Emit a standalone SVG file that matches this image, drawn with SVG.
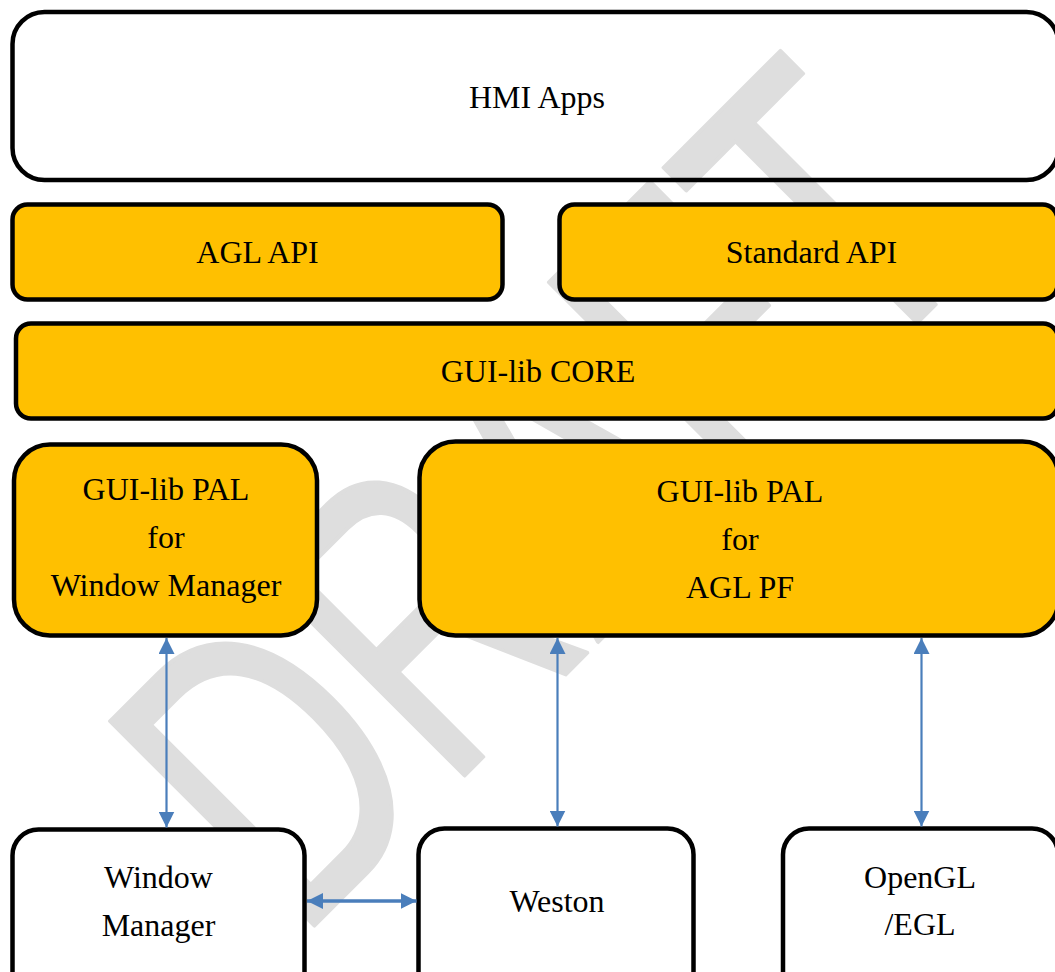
<svg xmlns="http://www.w3.org/2000/svg" width="1055" height="972" viewBox="0 0 1055 972">
<style>
.box{stroke:#000;stroke-width:4.5}
.y{fill:#FFC000}
.w{fill:#fff}
.t{font-family:"Liberation Serif","Times New Roman",serif;font-size:32px;fill:#000;text-anchor:middle}
.c{stroke:#4a7ebb;stroke-width:2.2;fill:none}
.wm{font-family:"Liberation Sans",Arial,sans-serif;font-size:420px;fill:#dedede;stroke:#dedede;stroke-width:4;stroke-linejoin:round}
</style>
<defs>
<marker id="ah" viewBox="0 0 16 16" refX="16" refY="8" markerWidth="16" markerHeight="16" markerUnits="userSpaceOnUse" orient="auto-start-reverse">
<path d="M0,0 L16,8 L0,16 Z" fill="#4a7ebb"/>
</marker>
</defs>
<rect width="1055" height="972" fill="#fff"/>
<g id="watermark">
<text class="wm" transform="translate(297,943) rotate(-45) scale(0.70,1)">DRAFT</text>
</g>
<g id="hmi-apps">
<rect class="box" x="12.5" y="12" width="1046" height="168" rx="32" fill="none"/>
<text class="t" x="537" y="108">HMI Apps</text>
</g>
<g id="agl-api">
<rect class="box y" x="12.5" y="204.5" width="490" height="95" rx="15"/>
<text class="t" x="257.5" y="263">AGL API</text>
</g>
<g id="standard-api">
<rect class="box y" x="559.5" y="204.5" width="498" height="95" rx="15"/>
<text class="t" x="811.5" y="263">Standard API</text>
</g>
<g id="gui-lib-core">
<rect class="box y" x="16" y="323.5" width="1042" height="95" rx="15"/>
<text class="t" x="538" y="382">GUI-lib CORE</text>
</g>
<g id="pal-wm">
<rect class="box y" x="14" y="444.5" width="303" height="191" rx="36"/>
<text class="t" x="166" y="500">GUI-lib PAL</text>
<text class="t" x="166" y="548">for</text>
<text class="t" x="166" y="596">Window Manager</text>
</g>
<g id="pal-aglpf">
<rect class="box y" x="419.5" y="441.5" width="639" height="194" rx="36"/>
<text class="t" x="740" y="502">GUI-lib PAL</text>
<text class="t" x="740" y="550">for</text>
<text class="t" x="740" y="598">AGL PF</text>
</g>
<g id="window-manager">
<rect class="box w" x="12.5" y="829.5" width="292" height="170" rx="26"/>
<text class="t" x="158.5" y="888">Window</text>
<text class="t" x="158.5" y="936">Manager</text>
</g>
<g id="weston">
<rect class="box w" x="418.5" y="828.5" width="275" height="170" rx="26"/>
<text class="t" x="557" y="912">Weston</text>
</g>
<g id="opengl-egl">
<rect class="box w" x="783" y="828.5" width="275" height="170" rx="26"/>
<text class="t" x="920" y="888">OpenGL</text>
<text class="t" x="920" y="935">/EGL</text>
</g>
<g id="connectors">
<line class="c" x1="166.5" y1="638" x2="166.5" y2="827.5" marker-start="url(#ah)" marker-end="url(#ah)"/>
<line class="c" x1="557.5" y1="638" x2="557.5" y2="826.5" marker-start="url(#ah)" marker-end="url(#ah)"/>
<line class="c" x1="921.5" y1="638" x2="921.5" y2="826.5" marker-start="url(#ah)" marker-end="url(#ah)"/>
<line class="c" style="stroke-width:3.5" x1="307" y1="901" x2="416.5" y2="901" marker-start="url(#ah)" marker-end="url(#ah)"/>
</g>
</svg>
